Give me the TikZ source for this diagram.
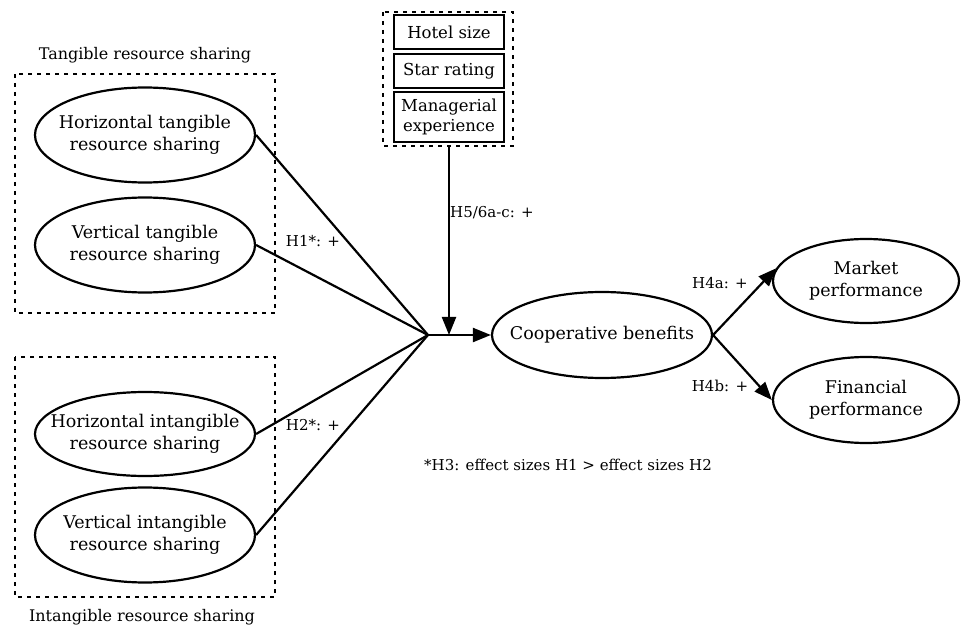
\documentclass[tikz,border=0pt]{standalone}
\usepackage{fontspec}
\setmainfont{DejaVu Serif}
\usetikzlibrary{shapes.geometric,arrows.meta}
\begin{document}
\begin{tikzpicture}[x=1pt,y=-1pt,
  every node/.style={font=\fontsize{17.5}{22}\selectfont},
  oval/.style={draw,line width=2.2pt,ellipse,minimum width=220pt,minimum height=#1,inner sep=0pt},
  oval/.default=95pt,
  otext/.style={align=center,inner sep=0pt},
  ctrl/.style={draw,line width=2.2pt,minimum width=110pt,inner sep=0pt,align=center,font=\fontsize{16.5}{20}\selectfont},
  grp/.style={line width=2.2pt,dash pattern=on 4pt off 5pt},
  conn/.style={line width=2.2pt},
  arr/.style={conn,-{Triangle[length=18pt,width=14pt]}},
  lbl/.style={font=\fontsize{15}{17}\selectfont,inner sep=1pt}]
\useasboundingbox (0,0) rectangle (961,628);
% control variables
\node[ctrl,minimum height=34pt] (hs) at (449,32) {Hotel size};
\node[ctrl,minimum height=34pt] (sr) at (449,71) {Star rating};
\node[ctrl,minimum height=50pt] (me) at (449,117) {Managerial\\experience};
\draw[grp] (383,12) rectangle (513,146);
\coordinate (ctop) at (449,146);
% groups
\node[font=\fontsize{16}{18}\selectfont] (tlab) at (145,55) {Tangible resource sharing};
\draw[grp] (15,74) rectangle (275,313);
\node[font=\fontsize{16}{18}\selectfont] (ilab) at (142,617) {Intangible resource sharing};
\draw[grp] (15,357) rectangle (275,597);
% ellipses
\node[oval] (ht) at (145,135) {};
\node[otext] (ht-t) at (ht) {Horizontal tangible\\resource sharing};
\node[oval] (vt) at (145,245) {};
\node[otext] (vt-t) at (vt) {Vertical tangible\\resource sharing};
\node[oval=84pt] (hi) at (145,434) {};
\node[otext] (hi-t) at (hi) {Horizontal intangible\\resource sharing};
\node[oval] (vi) at (145,535) {};
\node[otext] (vi-t) at (vi) {Vertical intangible\\resource sharing};
\node[oval=86pt] (cb) at (602,335) {};
\node[otext] (cb-t) at (cb) {Cooperative benefits};
\node[oval=84pt,minimum width=186pt] (mp) at (866,281) {};
\node[otext] (mp-t) at (mp) {Market\\performance};
\node[oval=86pt,minimum width=186pt] (fp) at (866,400) {};
\node[otext] (fp-t) at (fp) {Financial\\performance};
% merge
\coordinate (m) at (428,335);
\coordinate (mj) at (449,335);
\draw[conn] (ht.east) -- (m);
\draw[conn] (vt.east) -- (m);
\draw[conn] (hi.east) -- (m);
\draw[conn] (vi.east) -- (m);
\draw[arr] (m) -- (cb.west);
\draw[arr] (ctop) -- (mj);
\draw[arr] (cb.east) -- (mp.172);
\draw[arr] (cb.east) -- (fp.west);
% labels
\node[lbl] (h1) at (313,241) {H1*: +};
\node[lbl] (h2) at (313,425) {H2*: +};
\node[lbl] (h5) at (492,213) {H5/6a-c: +};
\node[lbl] (h4a) at (720,283) {H4a: +};
\node[lbl] (h4b) at (720,386) {H4b: +};
\node[lbl] (h3) at (568,465) {*H3: effect sizes H1 > effect sizes H2};
\end{tikzpicture}
\end{document}
